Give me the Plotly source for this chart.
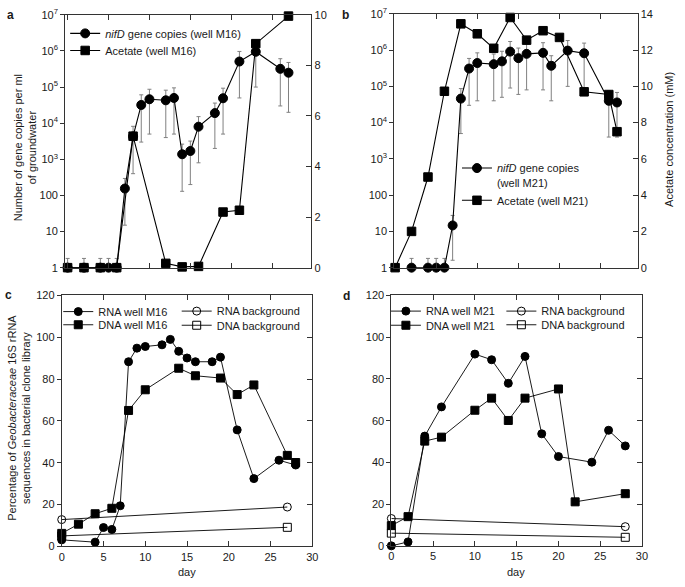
import plotly.graph_objects as go

# ---------------- data ----------------
# Panel a (well M16)
nifd_a_days = [0, 2, 4, 5, 6, 7, 8, 9, 10, 12, 13, 14, 15, 16, 18, 19, 21, 23, 26, 27]
nifd_a = [1, 1, 1, 1, 1, 155, 4300, 32000, 46000, 43000, 50000, 1380, 1700, 8000,
          19000, 49000, 5.1e5, 9.5e5, 3.2e5, 2.5e5]
nifd_a_err = [0.8, 0.8, 0.8, 0.8, 0.8, 140, 3900, 29000, 41000, 39000, 45000, 1250, 1500,
              7200, 17000, 44000, 4.6e5, 8.5e5, 2.9e5, 2.3e5]
acet_a_days = [0, 2, 4, 6, 8, 12, 14, 16, 19, 21, 23, 27]
acet_a = [0, 0, 0, 0, 5.2, 0.17, 0.03, 0.05, 2.2, 2.27, 8.86, 9.95]

# Panel b (well M21)
nifd_b_days = [2, 4, 5, 6, 7, 8, 9, 10, 12, 13, 14, 15, 16, 18, 19, 21, 23, 26, 27]
nifd_b = [1, 1, 1, 1, 14.6, 4.6e4, 3.1e5, 4.4e5, 4.1e5, 4.9e5, 9.1e5, 6.0e5, 7.9e5,
          8.4e5, 3.7e5, 9.7e5, 8.2e5, 4.0e4, 3.6e4]
nifd_b_err = [0.8, 0.8, 0.8, 0.8, 13, 4.1e4, 2.8e5, 4.0e5, 3.7e5, 4.4e5, 8.2e5, 5.4e5,
              7.1e5, 7.6e5, 3.3e5, 8.7e5, 7.4e5, 3.6e4, 3.2e4]
acet_b_days = [0, 2, 4, 6, 8, 10, 12, 14, 16, 18, 20, 23, 26, 27]
acet_b = [0, 2.0, 5.0, 9.73, 13.45, 12.9, 12.1, 13.8, 12.55, 13.07, 12.7, 9.7, 9.55, 7.5]

# Panel c (well M16)
rna_c_days = [0, 4, 5, 6, 7, 8, 9, 10, 12, 13, 14, 15, 16, 18, 19, 21, 23, 26, 28]
rna_c = [3.1, 2.0, 9.0, 8.1, 19.4, 88.3, 94.8, 95.6, 96.4, 99.0, 93.3, 90.1, 88.3, 88.3,
         90.5, 55.7, 32.4, 41.2, 38.9]
dna_c_days = [0, 2, 4, 6, 8, 10, 14, 16, 19, 21, 23, 27, 28]
dna_c = [6.2, 10.6, 15.6, 18.2, 65.0, 74.9, 85.2, 81.6, 80.5, 72.6, 77.2, 43.5, 40.1]
bg_days_c = [0, 27]
rna_bg_c = [12.8, 18.8]
dna_bg_c = [5.0, 9.1]

# Panel d (well M21)
rna_d_days = [0, 2, 4, 6, 10, 12, 14, 16, 18, 20, 24, 26, 28]
rna_d = [0, 1.9, 52.6, 66.6, 91.9, 89.2, 77.9, 90.8, 53.7, 42.8, 40.1, 55.4, 47.9]
dna_d_days = [0, 2, 4, 6, 10, 12, 14, 16, 20, 22, 28]
dna_d = [9.7, 14.0, 50.2, 52.1, 65.0, 70.8, 60.1, 70.8, 75.2, 21.1, 25.0]
bg_days_d = [0, 28]
rna_bg_d = [13.1, 9.2]
dna_bg_d = [6.1, 4.1]

log_tickvals = [1, 10, 100, 1e3, 1e4, 1e5, 1e6, 1e7]
log_ticktext = ["1", "10", "100", "10<sup>3</sup>", "10<sup>4</sup>", "10<sup>5</sup>",
                "10<sup>6</sup>", "10<sup>7</sup>"]

# ---------------- layout helpers ----------------
W, H = 685, 587
FONT = "Arial, Liberation Sans, Helvetica, sans-serif"
TXT = "#1a1a1a"


def fx(px):
    return px / W


def fy(py):
    return 1 - py / H


fig = go.Figure()

MS_A = 9
ERRC = "#808080"


def lo_err(vals, errs):
    return [0 if v <= 1 else e for v, e in zip(vals, errs)]


def add(x, y, xa, ya, symbol, size, legend, name, err=None, errlo=None, width=1.1):
    kw = {}
    if err is not None:
        kw["error_y"] = dict(type="data", array=err, arrayminus=errlo, symmetric=False,
                             color=ERRC, thickness=1, width=2)
    fig.add_trace(go.Scatter(
        x=x, y=y, xaxis=xa, yaxis=ya, mode="lines+markers", name=name,
        line=dict(color="black", width=width),
        marker=dict(symbol=symbol, size=size, color="black",
                    line=dict(color="black", width=1)),
        cliponaxis=False, legend=legend, showlegend=True, **kw))


# panel a
add(nifd_a_days, nifd_a, "x", "y", "circle", MS_A, "legend",
    "<i>nifD</i> gene copies (well M16)", nifd_a_err, lo_err(nifd_a, nifd_a_err))
add(acet_a_days, acet_a, "x", "y2", "square", 8.5, "legend2", "Acetate (well M16)")
# panel b
add(nifd_b_days, nifd_b, "x2", "y3", "circle", MS_A, "legend3",
    "<i>nifD</i> gene copies<br>(well M21)", nifd_b_err, lo_err(nifd_b, nifd_b_err))
add(acet_b_days, acet_b, "x2", "y4", "square", 8.5, "legend4", "Acetate (well M21)")
# panel c
add(rna_c_days, rna_c, "x3", "y5", "circle", 8, "legend5", "RNA well M16", width=0.9)
add(dna_c_days, dna_c, "x3", "y5", "square", 8, "legend6", "DNA well M16", width=0.9)
add(bg_days_c, rna_bg_c, "x3", "y5", "circle-open", 8, "legend7", "RNA background", width=0.9)
add(bg_days_c, dna_bg_c, "x3", "y5", "square-open", 8, "legend8", "DNA background", width=0.9)
# panel d
add(rna_d_days, rna_d, "x4", "y7", "circle", 8, "legend9", "RNA well M21", width=0.9)
add(dna_d_days, dna_d, "x4", "y7", "square", 8, "legend10", "DNA well M21", width=0.9)
add(bg_days_d, rna_bg_d, "x4", "y7", "circle-open", 8, "legend11", "RNA background", width=0.9)
add(bg_days_d, dna_bg_d, "x4", "y7", "square-open", 8, "legend12", "DNA background", width=0.9)
# dummy traces for right-hand tick axes of c and d
fig.add_trace(go.Scatter(x=[], y=[], xaxis="x3", yaxis="y6", showlegend=False))
fig.add_trace(go.Scatter(x=[], y=[], xaxis="x4", yaxis="y8", showlegend=False))

tickfont = dict(family=FONT, size=11, color=TXT)
common_x = dict(showline=True, linecolor="#333", linewidth=1, ticks="inside", ticklen=5,
                tickcolor="#333", mirror="ticks", showgrid=False, zeroline=False,
                tickfont=tickfont, dtick=5, tick0=0)
left_y = dict(showline=True, linecolor="#333", linewidth=1, ticks="outside", ticklen=4,
              tickcolor="#333", showgrid=False, zeroline=False, tickfont=tickfont)
right_y = dict(showline=True, linecolor="#333", linewidth=1, ticks="inside", ticklen=5,
               tickcolor="#333", showgrid=False, zeroline=False, tickfont=tickfont,
               side="right")

# domains (pixel boxes)
A = dict(x=(63, 312.5), y=(7, 266))
B = dict(x=(396.5, 643), y=(6, 266))
C = dict(x=(59.5, 313.5), y=(294.5, 551.5))
D = dict(x=(393.5, 647.5), y=(294.5, 551))


def xd(b):
    return [fx(b["x"][0]), fx(b["x"][1])]


def yd(b):
    return [fy(b["y"][1]), fy(b["y"][0])]


fig.update_layout(
    xaxis=dict(common_x, domain=xd(A), anchor="y", range=[-0.3, 29.8], showticklabels=False),
    yaxis=dict(left_y, domain=yd(A), anchor="x", type="log", range=[0, 7],
               tickvals=log_tickvals, ticktext=log_ticktext),
    yaxis2=dict(right_y, overlaying="y", anchor="x", range=[0, 10], dtick=2),
    xaxis2=dict(common_x, domain=xd(B), anchor="y3", range=[-0.1, 29.5], showticklabels=False),
    yaxis3=dict(left_y, domain=yd(B), anchor="x2", type="log", range=[0, 7],
                tickvals=log_tickvals, ticktext=log_ticktext),
    yaxis4=dict(right_y, overlaying="y3", anchor="x2", range=[0, 14], dtick=2),
    xaxis3=dict(common_x, domain=xd(C), anchor="y5", range=[0, 30]),
    yaxis5=dict(left_y, domain=yd(C), anchor="x3", range=[0, 120], dtick=20),
    yaxis6=dict(right_y, overlaying="y5", anchor="x3", range=[0, 120], dtick=20,
                showticklabels=False),
    xaxis4=dict(common_x, domain=xd(D), anchor="y7", range=[0, 30]),
    yaxis7=dict(left_y, domain=yd(D), anchor="x4", range=[0, 120], dtick=20),
    yaxis8=dict(right_y, overlaying="y7", anchor="x4", range=[0, 120], dtick=20,
                showticklabels=False),
    width=W, height=H, margin=dict(l=0, r=0, t=0, b=0),
    paper_bgcolor="white", plot_bgcolor="white",
    font=dict(family=FONT, size=11, color=TXT),
)

# legends: one per entry, placed by marker centre (px)
leg_font = dict(family=FONT, size=11, color=TXT)


def legend_at(mx, my, valign="middle", yanchor="middle"):
    return dict(x=fx(mx - 22), y=fy(my), xanchor="left", yanchor=yanchor,
                bgcolor="rgba(0,0,0,0)", font=leg_font, itemwidth=30,
                valign=valign, borderwidth=0, tracegroupgap=0)


fig.update_layout(
    legend=legend_at(85, 26),
    legend2=legend_at(85, 43.5),
    legend3=legend_at(482, 150, valign="top", yanchor="top"),
    legend4=legend_at(482, 197),
    legend5=legend_at(78, 311),
    legend6=legend_at(78, 324.5),
    legend7=legend_at(198, 310.5),
    legend8=legend_at(198, 325),
    legend9=legend_at(410, 310.5),
    legend10=legend_at(410, 325),
    legend11=legend_at(527, 310.5),
    legend12=legend_at(527, 324.5),
)

ann = []


def label(text, px, py, size=11, angle=0, bold=False, xanchor="center"):
    ann.append(dict(text=("<b>%s</b>" % text) if bold else text, x=fx(px), y=fy(py),
                    xref="paper", yref="paper", showarrow=False, textangle=angle,
                    xanchor=xanchor, yanchor="middle",
                    font=dict(family=FONT, size=size, color=TXT)))


label("a", 8, 7, size=12, bold=True)
label("b", 347, 7, size=12, bold=True)
label("c", 6, 294, size=12, bold=True)
label("d", 348, 295, size=12, bold=True)
label("Number of gene copies per ml<br>of groundwater", 22, 143, angle=-90)
label("Acetate concentration (mM)", 675, 135, angle=-90)
label("Percentage of <i>Geobacteraceae</i> 16S rRNA<br>sequences in bacterial clone library",
      16, 420, angle=-90)
label("day", 186, 578)
label("day", 520, 578)
fig.update_layout(annotations=ann)

fig.write_html("out.html", config={"displayModeBar": False},
               post_script="document.body.style.margin='0';document.body.style.overflow='hidden';")
